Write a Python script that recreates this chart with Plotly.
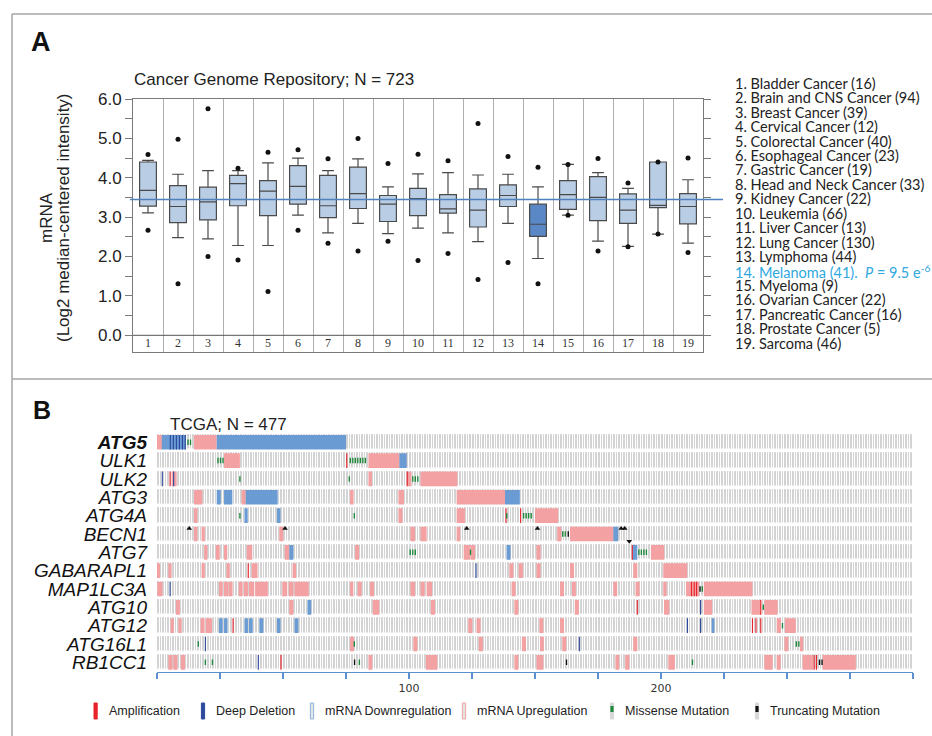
import plotly.graph_objects as go

W, H = 932, 736


def px(x):
    return x / W


def py(y):
    return 1 - y / H


# ---------------- Panel A data ----------------
CATEGORY_NAMES = ["Bladder Cancer", "Brain and CNS Cancer", "Breast Cancer", "Cervical Cancer",
                  "Colorectal Cancer", "Esophageal Cancer", "Gastric Cancer", "Head and Neck Cancer",
                  "Kidney Cancer", "Leukemia", "Liver Cancer", "Lung Cancer", "Lymphoma", "Melanoma",
                  "Myeloma", "Ovarian Cancer", "Pancreatic Cancer", "Prostate Cancer", "Sarcoma"]
SAMPLE_COUNTS = [16, 94, 39, 12, 40, 23, 19, 33, 22, 66, 13, 130, 44, 41, 9, 22, 16, 5, 46]
Q1 = [3.28, 2.86, 2.93, 3.29, 3.04, 3.33, 2.99, 3.22, 2.89, 3.04, 3.10, 2.75, 3.27, 2.51, 3.20, 2.91, 2.84, 3.24, 2.83]
MEDIAN = [3.68, 3.27, 3.39, 3.85, 3.66, 3.78, 3.29, 3.60, 3.33, 3.47, 3.21, 3.18, 3.55, 2.82, 3.57, 3.50, 3.18, 3.30, 3.27]
Q3 = [4.40, 3.80, 3.76, 4.06, 3.93, 4.31, 4.06, 4.27, 3.55, 3.73, 3.57, 3.72, 3.82, 3.33, 3.93, 4.03, 3.59, 4.40, 3.60]
LOWER_WHISKER = [3.11, 2.48, 2.45, 2.28, 2.28, 3.05, 2.60, 2.84, 2.58, 2.72, 2.60, 2.38, 2.84, 1.95, 3.05, 2.39, 2.26, 2.57, 2.34]
UPPER_WHISKER = [4.44, 4.09, 4.18, 4.18, 4.38, 4.50, 4.18, 4.48, 3.77, 4.10, 4.13, 4.07, 4.09, 3.77, 4.34, 4.13, 3.73, 4.40, 3.95]
MIN_POINT = [2.67, 1.31, 2.00, 1.91, 1.11, 2.67, 2.34, 2.14, 2.39, 1.90, 2.08, 1.42, 1.85, 1.31, 3.05, 2.14, 2.25, 2.57, 2.10]
MAX_POINT = [4.59, 4.98, 5.75, 4.24, 4.65, 4.71, 4.48, 5.00, 4.36, 4.60, 4.43, 5.38, 4.54, 4.27, 4.34, 4.49, 3.87, 4.40, 4.50]
HIGHLIGHT_INDEX = 14
REFERENCE_LEVEL = 3.45
PANEL_A_TITLE = "Cancer Genome Repository; N = 723"
P_VALUE_TEXT = "<i>P</i> = 9.5 e<sup>-6</sup>"
Y_LABELED_TICKS = [0.0, 1.0, 2.0, 3.0, 4.0, 5.0, 6.0]
Y_MINOR_STEP = 0.5

# ---------------- Panel B data ----------------
PANEL_B_TITLE = "TCGA; N = 477"
GENES = ["ATG5", "ULK1", "ULK2", "ATG3", "ATG4A", "BECN1", "ATG7", "GABARAPL1",
         "MAP1LC3A", "ATG10", "ATG12", "ATG16L1", "RB1CC1"]
QUERY_GENE = "ATG5"
SAMPLES_SHOWN = 300
X_TICK_STEP = 25
X_TICK_LABELED = [100, 200]

# (gene, first sample, last sample) runs
MRNA_UP = [
    ("ATG5", 0, 2), ("ATG5", 14.7, 23.7),
    ("ULK1", 26.6, 32.9), ("ULK1", 83.9, 96.2),
    ("ULK2", 5.8, 7.8), ("ULK2", 83.9, 85.3), ("ULK2", 99.3, 101), ("ULK2", 104.6, 119.2),
    ("ATG3", 14.7, 18), ("ATG3", 33.6, 35.2), ("ATG3", 76.6, 78), ("ATG3", 95.8, 98), ("ATG3", 118.9, 138.1),
    ("ATG4A", 14.7, 16), ("ATG4A", 95.8, 97.4), ("ATG4A", 118.9, 122.2), ("ATG4A", 150, 159.2),
    ("BECN1", 14.7, 16), ("BECN1", 17.7, 19), ("BECN1", 48.5, 50.1), ("BECN1", 100.6, 102.4),
    ("BECN1", 104.6, 107), ("BECN1", 118.9, 120.3), ("BECN1", 158.8, 160.4), ("BECN1", 163.9, 181.1),
    ("ATG7", 18.7, 20), ("ATG7", 23.3, 24.9), ("ATG7", 26.6, 27.9), ("ATG7", 35.6, 37.8), ("ATG7", 50.7, 52.5),
    ("ATG7", 78.6, 80.2), ("ATG7", 121.7, 124.2), ("ATG7", 124.4, 126.2), ("ATG7", 150.6, 152.2), ("ATG7", 196, 201.3),
    ("GABARAPL1", 0, 1.2), ("GABARAPL1", 4.5, 5.8), ("GABARAPL1", 17.7, 19), ("GABARAPL1", 27.6, 28.9),
    ("GABARAPL1", 37.6, 39.9), ("GABARAPL1", 53.8, 55.2), ("GABARAPL1", 139.8, 141.4), ("GABARAPL1", 143.6, 145.2),
    ("GABARAPL1", 150.6, 152.2), ("GABARAPL1", 163.9, 165.5), ("GABARAPL1", 189, 190.6), ("GABARAPL1", 200.9, 210.4),
    ("MAP1LC3A", 0.1, 2.2), ("MAP1LC3A", 24.6, 26.1), ("MAP1LC3A", 26.6, 28.2), ("MAP1LC3A", 28.4, 30),
    ("MAP1LC3A", 32.4, 34), ("MAP1LC3A", 34.5, 36.1), ("MAP1LC3A", 36.5, 38.6), ("MAP1LC3A", 39, 44),
    ("MAP1LC3A", 49.7, 51.7), ("MAP1LC3A", 52.3, 54.1), ("MAP1LC3A", 54.6, 60.2), ("MAP1LC3A", 76.6, 77.9),
    ("MAP1LC3A", 79.6, 81.2), ("MAP1LC3A", 84.5, 86.1), ("MAP1LC3A", 100.6, 102.4), ("MAP1LC3A", 104.6, 106.2),
    ("MAP1LC3A", 107, 109.2), ("MAP1LC3A", 140.7, 142.3), ("MAP1LC3A", 159.9, 161.5), ("MAP1LC3A", 164.7, 166.2),
    ("MAP1LC3A", 181.1, 182.6), ("MAP1LC3A", 189.9, 191.5), ("MAP1LC3A", 200.9, 202.2), ("MAP1LC3A", 209.9, 215.2),
    ("MAP1LC3A", 217, 236.3),
    ("ATG10", 7.5, 9.1), ("ATG10", 52.5, 54.1), ("ATG10", 85.6, 88.2), ("ATG10", 108.7, 110.3),
    ("ATG10", 141.8, 143.4), ("ATG10", 165.8, 167.4), ("ATG10", 201.2, 203.3), ("ATG10", 217, 220.3),
    ("ATG10", 235.9, 239.6), ("ATG10", 241, 246.3),
    ("ATG12", 5.4, 6.7), ("ATG12", 8.5, 9.8), ("ATG12", 17.3, 18.9), ("ATG12", 19.4, 21.8),
    ("ATG12", 123.5, 125.1), ("ATG12", 126.8, 128.4), ("ATG12", 151.7, 153.3), ("ATG12", 159.9, 161.5),
    ("ATG12", 245.9, 247.6), ("ATG12", 249.2, 253.5),
    ("ATG16L1", 76.6, 78.2), ("ATG16L1", 101.7, 103.3), ("ATG16L1", 127.7, 129.3), ("ATG16L1", 144.8, 146.4),
    ("ATG16L1", 152, 153.5), ("ATG16L1", 160.8, 162.4), ("ATG16L1", 189, 190.6), ("ATG16L1", 249, 250.5),
    ("ATG16L1", 255.1, 256.4),
    ("RB1CC1", 4.5, 6.1), ("RB1CC1", 6.5, 8.1), ("RB1CC1", 9.5, 11.1), ("RB1CC1", 83.9, 85.4),
    ("RB1CC1", 106.7, 111.2), ("RB1CC1", 141.8, 143.4), ("RB1CC1", 150.6, 153.3), ("RB1CC1", 181.9, 183.4),
    ("RB1CC1", 185.8, 187.4), ("RB1CC1", 202.9, 205.5), ("RB1CC1", 241, 244.3), ("RB1CC1", 245.9, 247.5),
    ("RB1CC1", 256.2, 260.4), ("RB1CC1", 264.1, 277.3),
]
MRNA_DOWN = [
    ("ATG5", 1.9, 11.5), ("ATG5", 23.7, 75),
    ("ULK1", 96.2, 99.1),
    ("ATG3", 23.7, 25.3), ("ATG3", 26.6, 29.9), ("ATG3", 35.2, 47.9), ("ATG3", 138.1, 144),
    ("ATG4A", 34.7, 36), ("ATG4A", 47.6, 49),
    ("BECN1", 181.1, 183),
    ("ATG7", 52.5, 54.1), ("ATG7", 138.7, 140.3), ("ATG7", 188.6, 190.6),
    ("ATG10", 59.7, 61.2),
    ("ATG12", 24.6, 26.1), ("ATG12", 26.6, 28), ("ATG12", 34.7, 36.1), ("ATG12", 36.5, 38),
    ("ATG12", 40.6, 42.2), ("ATG12", 47.6, 49), ("ATG12", 54.6, 56.1), ("ATG12", 220.1, 221.2),
]
# (gene, sample) single-case events
AMPLIFICATION = [
    ("ULK1", 75.3), ("ULK2", 5.2), ("ULK2", 99.3), ("ATG4A", 138.5), ("ATG4A", 144.3), ("ATG7", 188.6),
    ("GABARAPL1", 36.2), ("MAP1LC3A", 212.1), ("MAP1LC3A", 213.2), ("MAP1LC3A", 214.1),
    ("ATG10", 190.6), ("ATG10", 239.6), ("ATG12", 30.2), ("ATG12", 236.3), ("ATG12", 237.7),
    ("ATG12", 239.6), ("RB1CC1", 49.2), ("RB1CC1", 260.8), ("RB1CC1", 261.7),
]
DEEP_DELETION = [
    ("ATG5", 5.3), ("ATG5", 6.5), ("ATG5", 7.7), ("ATG5", 8.9), ("ATG5", 10.1), ("ATG5", 11.2),
    ("ULK2", 2.1), ("ULK2", 6.6), ("GABARAPL1", 126.6), ("MAP1LC3A", 5.2), ("ATG10", 215.7),
    ("ATG12", 210.5), ("ATG12", 215.7), ("ATG16L1", 19.2), ("ATG16L1", 167.6), ("RB1CC1", 40.2),
]
# (gene, first sample, number of consecutive cases)
MISSENSE = [
    ("ATG5", 12.3, 2), ("ULK1", 24.2, 3), ("ULK1", 76.7, 7),
    ("ULK2", 32.9, 1), ("ULK2", 76.3, 1), ("ULK2", 101.5, 3),
    ("ATG4A", 32.9, 1), ("ATG4A", 78.3, 1), ("ATG4A", 138.8, 1), ("ATG4A", 145.5, 4),
    ("BECN1", 161, 2), ("ATG7", 100.5, 3), ("ATG7", 124.4, 1), ("ATG7", 191.2, 4),
    ("MAP1LC3A", 216.4, 1), ("ATG10", 240.6, 1), ("ATG12", 248.2, 1),
    ("ATG16L1", 16.4, 1), ("ATG16L1", 78.3, 1), ("ATG16L1", 253.7, 2),
    ("RB1CC1", 19.2, 1), ("RB1CC1", 22, 1), ("RB1CC1", 80.3, 1), ("RB1CC1", 212.5, 1),
]
TRUNCATING = [
    ("BECN1", 163.2), ("MAP1LC3A", 215.5), ("RB1CC1", 78.4), ("RB1CC1", 162.5),
    ("RB1CC1", 262.9), ("RB1CC1", 263.9),
]
OTHER_UP = [("BECN1", 12.8), ("BECN1", 50.8), ("BECN1", 122.9), ("BECN1", 151),
            ("BECN1", 184.2), ("BECN1", 185.6)]
OTHER_DOWN = [("BECN1", 187.4)]

LEGEND_LABELS = ["Amplification", "Deep Deletion", "mRNA Downregulation",
                 "mRNA Upregulation", "Missense Mutation", "Truncating Mutation"]

# ---------------- styling ----------------
SANS = "Liberation Sans, Arial, sans-serif"
BOX_FILL = "#b9cde5"
BOX_FILL_HL = "#5a87c5"
C_UP = "#f4a1a3"
C_DOWN = "#6b9bd3"
C_AMP = "#e8232a"
C_DEL = "#2e4a9e"
C_MIS = "#1f8a3c"
C_TRUNC = "#111111"
C_CELL = "#d3d3d3"
ROW_H = 0.8

fig = go.Figure()

# ---- Panel A: boxes ----
positions = list(range(1, len(CATEGORY_NAMES) + 1))
for k, pos in enumerate(positions):
    fig.add_trace(go.Box(
        x=[pos], q1=[Q1[k]], median=[MEDIAN[k]], q3=[Q3[k]],
        lowerfence=[LOWER_WHISKER[k]], upperfence=[UPPER_WHISKER[k]],
        width=0.56, whiskerwidth=0.7, boxpoints=False,
        fillcolor=BOX_FILL_HL if pos == HIGHLIGHT_INDEX else BOX_FILL,
        line=dict(color="#4a4a4a", width=1.2),
        xaxis="x", yaxis="y", showlegend=False, hoverinfo="skip"))

fig.add_trace(go.Scatter(
    x=positions + positions, y=MIN_POINT + MAX_POINT, mode="markers",
    marker=dict(color="#111111", size=5), xaxis="x", yaxis="y",
    showlegend=False, hoverinfo="skip"))

fig.add_trace(go.Scatter(
    x=positions, y=[-0.208] * len(positions), mode="text",
    text=[str(p) for p in positions],
    textfont=dict(family="Liberation Serif, serif", size=12, color="#333333"),
    xaxis="x", yaxis="y", showlegend=False, hoverinfo="skip", cliponaxis=False))

# reference level line, drawn on a wider helper x axis
fig.add_trace(go.Scatter(
    x=[0, 1], y=[REFERENCE_LEVEL, REFERENCE_LEVEL], mode="lines",
    line=dict(color="#4f81bd", width=1.6), xaxis="x3", yaxis="y",
    showlegend=False, hoverinfo="skip"))

# ---- Panel B: oncoprint ----
n_genes = len(GENES)
fig.add_trace(go.Heatmap(
    x=[i + 0.5 for i in range(SAMPLES_SHOWN)], y=list(range(n_genes)),
    z=[[1] * SAMPLES_SHOWN for _ in GENES], zmin=0, zmax=1,
    colorscale=[[0, C_CELL], [1, C_CELL]], showscale=False,
    xgap=1, ygap=3.5, xaxis="x2", yaxis="y2", hoverinfo="skip"))


def run_bars(events, color):
    xs, ws, bs = [], [], []
    for gene, s0, s1 in events:
        r = GENES.index(gene)
        xs.append((s0 + s1) / 2)
        ws.append(s1 - s0)
        bs.append(r - ROW_H / 2)
    return go.Bar(x=xs, y=[ROW_H] * len(xs), width=ws, base=bs,
                  marker=dict(color=color, line=dict(width=0)),
                  xaxis="x2", yaxis="y2", showlegend=False, hoverinfo="skip")


def point_bars(events, color, width, height):
    xs = [s for _, s in events]
    bs = [GENES.index(g) - height / 2 for g, _ in events]
    return go.Bar(x=xs, y=[height] * len(xs), width=[width] * len(xs), base=bs,
                  marker=dict(color=color, line=dict(width=0)),
                  xaxis="x2", yaxis="y2", showlegend=False, hoverinfo="skip")


missense_points = []
for gene, first, count in MISSENSE:
    for j in range(count):
        missense_points.append((gene, first + j))

fig.add_trace(run_bars(MRNA_UP, C_UP))
fig.add_trace(run_bars(MRNA_DOWN, C_DOWN))
fig.add_trace(point_bars(AMPLIFICATION, C_AMP, 0.45, ROW_H))
fig.add_trace(point_bars(DEEP_DELETION, C_DEL, 0.45, ROW_H))
fig.add_trace(point_bars(missense_points, C_MIS, 0.55, 0.3))
fig.add_trace(point_bars(TRUNCATING, C_TRUNC, 0.55, 0.3))

fig.add_trace(go.Scatter(
    x=[s for _, s in OTHER_UP], y=[GENES.index(g) - 0.3 for g, _ in OTHER_UP],
    mode="markers", marker=dict(symbol="triangle-up", size=5, color="#111111"),
    xaxis="x2", yaxis="y2", showlegend=False, hoverinfo="skip", cliponaxis=False))
fig.add_trace(go.Scatter(
    x=[s for _, s in OTHER_DOWN], y=[GENES.index(g) + 0.4 for g, _ in OTHER_DOWN],
    mode="markers", marker=dict(symbol="triangle-down", size=5, color="#111111"),
    xaxis="x2", yaxis="y2", showlegend=False, hoverinfo="skip", cliponaxis=False))

# ---------------- layout ----------------
gene_text = [f"<b><i>{g}</i></b>" if g == QUERY_GENE else f"<i>{g}</i>" for g in GENES]

fig.update_layout(
    width=W, height=H, autosize=False,
    margin=dict(l=0, r=0, t=0, b=0, autoexpand=False),
    paper_bgcolor="white", plot_bgcolor="rgba(0,0,0,0)",
    barmode="overlay", showlegend=False,
    font=dict(family=SANS, color="#222222"),
    xaxis=dict(domain=[px(133), px(703)], range=[0.5, len(positions) + 0.5],
               tickvals=[p + 0.5 for p in positions[:-1]], showticklabels=False, ticks="",
               showgrid=True, gridcolor="#b0b0b0", gridwidth=1,
               showline=True, mirror=True, linecolor="#7a7a7a", linewidth=1,
               zeroline=False, anchor="y", fixedrange=True, automargin=False),
    yaxis=dict(domain=[py(351.7), py(99)], range=[-0.416, 6.0],
               tickvals=Y_LABELED_TICKS,
               ticktext=[f"{v:.1f}" for v in Y_LABELED_TICKS],
               ticks="outside", ticklen=7, tickcolor="#7a7a7a",
               minor=dict(dtick=Y_MINOR_STEP, tick0=0, ticks="outside", ticklen=7,
                          tickcolor="#7a7a7a", showgrid=False),
               tickfont=dict(family=SANS, size=17, color="#222222"),
               showline=True, mirror="ticks", linecolor="#7a7a7a", linewidth=1,
               showgrid=False, zeroline=False, anchor="x", fixedrange=True, automargin=False),
    xaxis3=dict(domain=[px(130), px(723)], range=[0, 1], visible=False,
                anchor="y", fixedrange=True, automargin=False),
    xaxis2=dict(domain=[px(157), px(913)], range=[0, SAMPLES_SHOWN],
                tickvals=X_TICK_LABELED,
                ticktext=[str(t) for t in X_TICK_LABELED],
                ticks="outside", ticklen=6, tickcolor="#5b8fd0", tickwidth=1.5,
                minor=dict(dtick=X_TICK_STEP, tick0=0, ticks="outside", ticklen=6,
                           tickcolor="#5b8fd0", tickwidth=1.5, showgrid=False),
                tickfont=dict(family="DejaVu Sans, Verdana, sans-serif", size=11, color="#333333"),
                showline=True, linecolor="#5b8fd0", linewidth=1.5,
                showgrid=False, zeroline=False, anchor="y2", fixedrange=True, automargin=False),
    yaxis2=dict(domain=[py(671.7), py(433.1)], range=[n_genes - 0.49, -0.5],
                tickvals=list(range(n_genes)), ticktext=gene_text,
                ticks="", ticklabelstandoff=9,
                tickfont=dict(family=SANS, size=19, color="#111111"),
                showline=False, showgrid=False, zeroline=False,
                anchor="x2", fixedrange=True, automargin=False),
)

shapes = []
# zero line of panel A
shapes.append(dict(type="line", xref="x domain", yref="y", x0=0, x1=1, y0=0, y1=0,
                   line=dict(color="#555555", width=1)))
# panel frame
frame = dict(color="#a6a6a6", width=1.5)
shapes.append(dict(type="line", xref="paper", yref="paper", x0=px(12), x1=1.0, y0=py(14), y1=py(14), line=frame))
shapes.append(dict(type="line", xref="paper", yref="paper", x0=px(12), x1=px(12), y0=py(14), y1=0, line=frame))
shapes.append(dict(type="line", xref="paper", yref="paper", x0=px(12), x1=1.0, y0=py(379), y1=py(379), line=frame))

annotations = []
annotations.append(dict(text="<b>A</b>", x=px(29), y=py(42), xref="paper", yref="paper",
                        xanchor="left", yanchor="middle", showarrow=False,
                        font=dict(family=SANS, size=27, color="#111111")))
annotations.append(dict(text="<b>B</b>", x=px(31), y=py(410), xref="paper", yref="paper",
                        xanchor="left", yanchor="middle", showarrow=False,
                        font=dict(family=SANS, size=25, color="#111111")))
annotations.append(dict(text=PANEL_A_TITLE, x=px(132), y=py(79), xref="paper", yref="paper",
                        xanchor="left", yanchor="middle", showarrow=False,
                        font=dict(family=SANS, size=17, color="#222222")))
annotations.append(dict(text=PANEL_B_TITLE, x=px(168), y=py(424), xref="paper", yref="paper",
                        xanchor="left", yanchor="middle", showarrow=False,
                        font=dict(family=SANS, size=17, color="#222222")))
annotations.append(dict(text="mRNA", x=px(46), y=py(218), xref="paper", yref="paper",
                        xanchor="center", yanchor="middle", textangle=-90, showarrow=False,
                        font=dict(family=SANS, size=17, color="#222222")))
annotations.append(dict(text="(Log2 median-centered intensity)", x=px(63), y=py(218),
                        xref="paper", yref="paper", xanchor="center", yanchor="middle",
                        textangle=-90, showarrow=False,
                        font=dict(family=SANS, size=17, color="#222222")))

for k, (name, cnt) in enumerate(zip(CATEGORY_NAMES, SAMPLE_COUNTS)):
    num = k + 1
    txt = f"{num}. {name} ({cnt})"
    color = "#222222"
    if num == HIGHLIGHT_INDEX:
        txt += ".&nbsp;&nbsp;" + P_VALUE_TEXT
        color = "#2ea8df"
    annotations.append(dict(text=txt, x=px(733), y=py(83.3 + k * 14.44), xref="paper", yref="paper",
                            xanchor="left", yanchor="middle", showarrow=False,
                            font=dict(family="Lato, Open Sans, sans-serif", size=14.5, color=color)))

# legend of panel B
legend_x = [95.6, 203, 312, 464, 612, 757]
legend_style = [
    dict(fill=C_AMP, line=C_AMP, inner=None),
    dict(fill=C_DEL, line=C_DEL, inner=None),
    dict(fill="#e4e4e4", line="#8fb4dd", inner=None),
    dict(fill="#e4e4e4", line="#f2a3a5", inner=None),
    dict(fill="#d8d8d8", line="#d8d8d8", inner=C_MIS),
    dict(fill="#d8d8d8", line="#d8d8d8", inner=C_TRUNC),
]
for lx, lab, st in zip(legend_x, LEGEND_LABELS, legend_style):
    shapes.append(dict(type="rect", xref="paper", yref="paper",
                       x0=px(lx - 1.6), x1=px(lx + 1.6), y0=py(719), y1=py(703),
                       fillcolor=st["fill"], line=dict(color=st["line"], width=1)))
    if st["inner"]:
        shapes.append(dict(type="rect", xref="paper", yref="paper",
                           x0=px(lx - 1.6), x1=px(lx + 1.6), y0=py(712), y1=py(706),
                           fillcolor=st["inner"], line=dict(width=0)))
    annotations.append(dict(text=lab, x=px(lx + 11), y=py(711), xref="paper", yref="paper",
                            xanchor="left", yanchor="middle", showarrow=False,
                            font=dict(family=SANS, size=12.5, color="#222222")))

fig.update_layout(shapes=shapes, annotations=annotations)

fig.write_html(
    "out.html",
    config={"displayModeBar": False, "staticPlot": True},
    post_script=(
        "var d=document.getElementById('{plot_id}');"
        "d.style.position='fixed';d.style.top='0px';d.style.left='0px';"
        "document.documentElement.style.margin='0';document.body.style.margin='0';"
        "document.body.style.padding='0';document.documentElement.style.overflow='hidden';"
        "document.body.style.overflow='hidden';"
    ),
)
